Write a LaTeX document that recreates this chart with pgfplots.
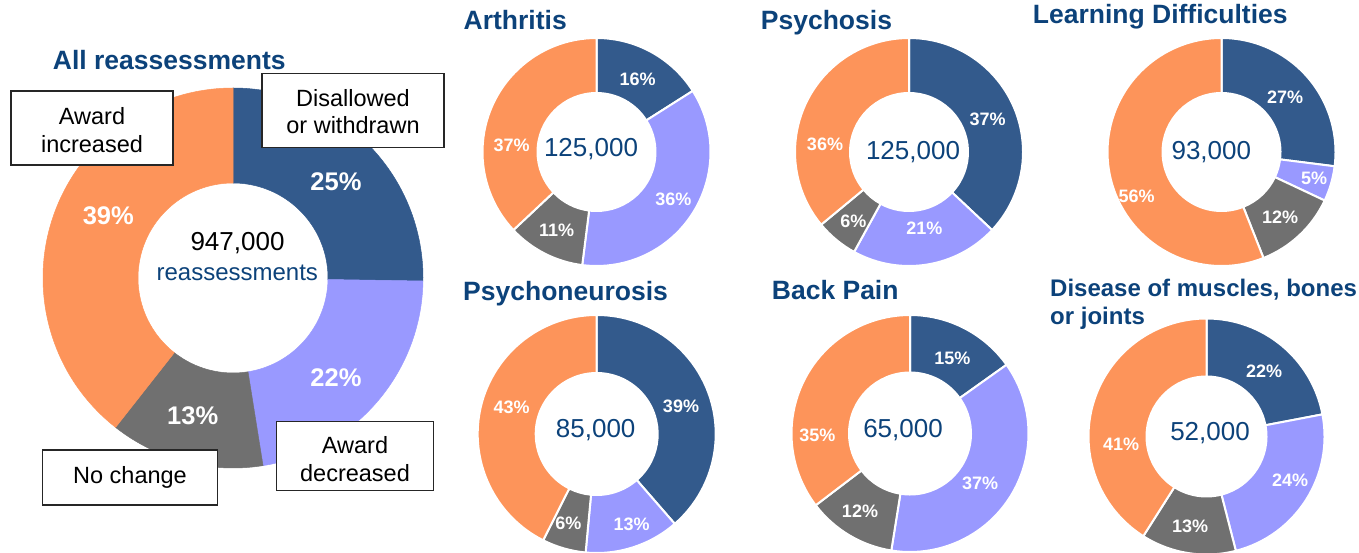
\documentclass[border=0pt]{standalone}
\usepackage{pgfplots}
\pgfplotsset{compat=1.18}
\usepackage{fontspec}
\setmainfont{Liberation Sans}

\definecolor{cblue}{RGB}{51,90,140}
\definecolor{cpurple}{RGB}{153,153,255}
\definecolor{cgrey}{RGB}{112,112,112}
\definecolor{corange}{RGB}{253,148,90}
\definecolor{navy}{RGB}{12,66,122}

% one ring segment: cx, cy, r outer, r inner, start angle, end angle, style
\newcommand{\seg}[7]{%
  \filldraw[#7] ([shift={({#5}:#3pt)}]axis cs:#1,#2)
    arc[start angle={#5}, end angle={#6}, radius=#3pt]
    -- ([shift={({#6}:#4pt)}]axis cs:#1,#2)
    arc[start angle={#6}, end angle={#5}, radius=#4pt] -- cycle;}

% donut: cx, cy, r outer, r inner, four shares (clockwise from top), extra style
\newcommand{\donut}[9]{%
  \seg{#1}{#2}{#3}{#4}{90}{90-(#5)/(#5+#6+#7+#8)*360}{fill=cblue,draw=cblue,#9}%
  \seg{#1}{#2}{#3}{#4}{90-(#5)/(#5+#6+#7+#8)*360}{90-(#5+#6)/(#5+#6+#7+#8)*360}{fill=cpurple,draw=cpurple,#9}%
  \seg{#1}{#2}{#3}{#4}{90-(#5+#6)/(#5+#6+#7+#8)*360}{90-(#5+#6+#7)/(#5+#6+#7+#8)*360}{fill=cgrey,draw=cgrey,#9}%
  \seg{#1}{#2}{#3}{#4}{90-(#5+#6+#7)/(#5+#6+#7+#8)*360}{-270}{fill=corange,draw=corange,#9}%
}

\tikzset{
  ttl/.style={font=\bfseries\fontsize{26.5}{30}\selectfont, text=navy, anchor=base west, inner sep=0pt},
  ctr/.style={font=\fontsize{26}{30}\selectfont, text=navy, inner sep=0pt},
  pct/.style={font=\bfseries\fontsize{18}{20}\selectfont, text=white, inner sep=0pt},
  bigpct/.style={font=\bfseries\fontsize{25.5}{28}\selectfont, text=white, inner sep=0pt},
  box/.style={draw=black!85, line width=1.2pt, fill=white},
  boxtxt/.style={font=\fontsize{23.5}{26}\selectfont, text=black, anchor=base, inner sep=0pt},
}

\begin{document}
\begin{tikzpicture}
\begin{axis}[
    hide axis,
    x=1pt, y=1pt,
    y dir=reverse,
    xmin=0, xmax=1359,
    ymin=0, ymax=553,
    clip=false,
]

% sep style: small donuts have white gaps, the big one none
\donut{233}{278}{190}{95}{25}{22}{13}{39}{line width=0.5pt}
\donut{596.5}{152}{114}{59}{16}{36}{11}{37}{draw=white,line width=2pt}
\donut{909}{152}{114}{59}{37}{21}{6}{36}{draw=white,line width=2pt}
\donut{1221.5}{152}{114}{59}{27}{5}{12}{56}{draw=white,line width=2pt}
\donut{596.7}{434}{119}{61}{39}{13}{6}{43}{draw=white,line width=2pt}
\donut{910}{433.5}{118.5}{61}{15}{37}{12}{35}{draw=white,line width=2pt}
\donut{1206.5}{436.5}{118}{60}{22}{24}{13}{41}{draw=white,line width=2pt}

% titles
\node[ttl] at (axis cs:52.7,69.3) {All reassessments};
\node[ttl] at (axis cs:463.5,29.3) {Arthritis};
\node[ttl] at (axis cs:760.7,30) {Psychosis};
\node[ttl] at (axis cs:1032.7,24) {Learning Difficulties};
\node[ttl] at (axis cs:463,300) {Psychoneurosis};
\node[ttl] at (axis cs:771.7,299) {Back Pain};
\node[ttl, font=\bfseries\fontsize{24}{28}\selectfont] at (axis cs:1050,296.7) {Disease of muscles, bones};
\node[ttl, font=\bfseries\fontsize{24}{28}\selectfont] at (axis cs:1050,324.3) {or joints};

% centre totals
\node[ctr, text=black] at (axis cs:237.5,243.3) {947,000};
\node[ctr, font=\fontsize{24}{28}\selectfont] at (axis cs:237.3,272.7) {reassessments};
\node[ctr] at (axis cs:591,149.5) {125,000};
\node[ctr] at (axis cs:913,151.7) {125,000};
\node[ctr] at (axis cs:1211.3,151.7) {93,000};
\node[ctr] at (axis cs:595.7,430) {85,000};
\node[ctr] at (axis cs:903,430) {65,000};
\node[ctr] at (axis cs:1210,432.7) {52,000};

% big donut labels
\node[bigpct] at (axis cs:336,181.7) {25\%};
\node[bigpct] at (axis cs:336,377.3) {22\%};
\node[bigpct] at (axis cs:192.7,416) {13\%};
\node[bigpct] at (axis cs:108.3,216) {39\%};

% Arthritis
\node[pct] at (axis cs:637.7,79.3) {16\%};
\node[pct] at (axis cs:673.3,199.3) {36\%};
\node[pct] at (axis cs:556.7,230) {11\%};
\node[pct] at (axis cs:511.7,145.7) {37\%};
% Psychosis
\node[pct] at (axis cs:987.7,119.3) {37\%};
\node[pct] at (axis cs:924.3,228.3) {21\%};
\node[pct] at (axis cs:853.3,221) {6\%};
\node[pct] at (axis cs:825,144) {36\%};
% Learning Difficulties
\node[pct] at (axis cs:1285,97.3) {27\%};
\node[pct] at (axis cs:1314,178.3) {5\%};
\node[pct] at (axis cs:1280,217.3) {12\%};
\node[pct] at (axis cs:1136.7,196.7) {56\%};
% Psychoneurosis
\node[pct] at (axis cs:681,406.7) {39\%};
\node[pct] at (axis cs:631.7,524) {13\%};
\node[pct] at (axis cs:568.3,523.3) {6\%};
\node[pct] at (axis cs:511.7,407.7) {43\%};
% Back Pain
\node[pct] at (axis cs:952.3,358.3) {15\%};
\node[pct] at (axis cs:980,483.3) {37\%};
\node[pct] at (axis cs:860,511.7) {12\%};
\node[pct] at (axis cs:817.3,435) {35\%};
% Disease of muscles, bones or joints
\node[pct] at (axis cs:1264,371.7) {22\%};
\node[pct] at (axis cs:1290,480) {24\%};
\node[pct] at (axis cs:1190,526.7) {13\%};
\node[pct] at (axis cs:1121,444) {41\%};

% category boxes round the big donut
\draw[box] (axis cs:262,73.3) rectangle (axis cs:444,147.3);
\node[boxtxt] at (axis cs:353,107) {Disallowed};
\node[boxtxt] at (axis cs:353,134) {or withdrawn};
\draw[box] (axis cs:11,91) rectangle (axis cs:173,165);
\node[boxtxt] at (axis cs:92,124.3) {Award};
\node[boxtxt] at (axis cs:92,152.3) {increased};
\draw[box] (axis cs:42.7,450) rectangle (axis cs:217.3,505);
\node[boxtxt] at (axis cs:130,483.3) {No change};
\draw[box] (axis cs:276.7,421.7) rectangle (axis cs:433.7,490.7);
\node[boxtxt] at (axis cs:355,453.3) {Award};
\node[boxtxt] at (axis cs:355,481) {decreased};

\end{axis}
\pgfresetboundingbox
\path (0,0) rectangle (1359pt,553pt);
\end{tikzpicture}
\end{document}
